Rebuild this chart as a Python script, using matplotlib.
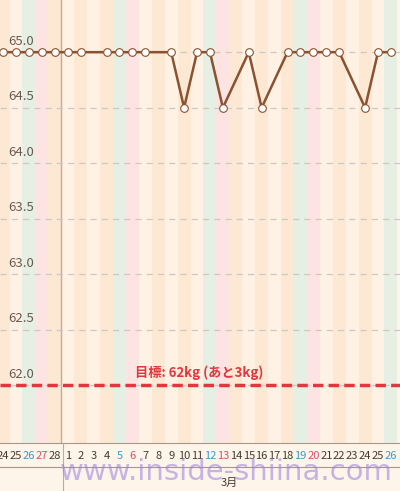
import matplotlib.pyplot as plt
import matplotlib.transforms as mtransforms

plt.rcParams['font.family'] = ['Noto Sans CJK JP', 'DejaVu Sans']

# days shown: Feb 24..28, Mar 1..26 (index 0..30)
day_labels = ["24", "25", "26", "27", "28"] + [str(d) for d in range(1, 27)]
# weekday kind: 0 normal, 1 saturday, 2 sunday
day_kind = [0, 0, 1, 2, 0, 0, 0, 0, 0, 1, 2, 0, 0, 0, 0, 0, 1, 2,
            0, 0, 0, 0, 0, 1, 2, 0, 0, 0, 0, 0, 1]

# measured weights per day index (-1 = Feb 23, off the left edge)
w_map = {-1: 65.0, 0: 65.0, 1: 65.0, 2: 65.0, 3: 65.0, 4: 65.0, 5: 65.0, 6: 65.0,
         8: 65.0, 9: 65.0, 10: 65.0, 11: 65.0, 13: 65.0, 14: 64.5, 15: 65.0,
         16: 65.0, 17: 64.5, 19: 65.0, 20: 64.5, 22: 65.0, 23: 65.0, 24: 65.0,
         25: 65.0, 26: 65.0, 28: 64.5, 29: 65.0, 30: 65.0}
w_idx = sorted(w_map)
w_val = [w_map[i] for i in w_idx]

target = 62.0
yticks = [62.0, 62.5, 63.0, 63.5, 64.0, 64.5, 65.0]

fig = plt.figure(figsize=(4.0, 4.91), dpi=100)
fig.patch.set_facecolor("#fdf4ea")
ax = fig.add_axes([0, 48 / 491, 1, 443 / 491])
ax.set_xlim(-0.24, 30.7)
ax.set_ylim(61.48, 65.47)
ax.axis("off")

cols = {0: ["#fde8d4", "#fff2e4"], 1: ["#e5efe4"] * 2, 2: ["#fde4e2"] * 2}
for i, k in enumerate(day_kind):
    ax.axvspan(i - 0.5, i + 0.5, color=cols[k][i % 2], lw=0, zorder=0)
ax.axvline(4.5, color="#c8aa90", lw=1, zorder=1)

for y in yticks:
    ax.axhline(y, color="#cfc8c0", lw=0.9, ls=(0, (5, 4)), zorder=1)
    ax.text(0.02, y + 0.04, f"{y:.1f}", transform=ax.get_yaxis_transform(),
            fontsize=9.5, color="#6b5a4c", va="bottom", zorder=2)

ax.axhline(target, color="#e0383e", lw=2.5, ls=(0, (3, 1.5)), zorder=3)
ax.text(15.2, target + 0.05, "目標: 62kg (あと3kg)", color="#e0383e",
        fontsize=9.5, fontweight="bold", ha="center", va="bottom", zorder=4)

ax.plot(w_idx, w_val, color="#8a5230", lw=1.8, zorder=5,
        marker="o", ms=5.5, mfc="white", mec="#8a5230", mew=0.8)

# day labels band
trans = mtransforms.blended_transform_factory(ax.transData, fig.transFigure)
tcol = {0: "#4a3a2e", 1: "#3a9ad0", 2: "#d8506a"}
for i, (lab, k) in enumerate(zip(day_labels, day_kind)):
    fig.text(i, 1 - 456 / 491, lab, transform=trans, ha="center", va="center",
             fontsize=8, color=tcol[k])
fig.add_artist(plt.Line2D([0, 1], [1 - 443 / 491] * 2, color="#a89888", lw=0.8))
fig.add_artist(plt.Line2D([0, 1], [1 - 467 / 491] * 2, color="#a89888", lw=0.8))
fig.add_artist(plt.Line2D([63 / 400] * 2, [0, 48 / 491], color="#c8aa90", lw=0.8))
fig.text(17.5, 1 - 483 / 491, "3月", transform=trans, ha="center", va="center",
         fontsize=8, color="#4a3a2e")

fig.text(0.565, 1 - 472 / 491, "www.inside-shiina.com", ha="center", va="center",
         fontsize=21, color="#9a7ee0", alpha=0.55, family="DejaVu Sans")

fig.savefig("out.png", dpi=100, facecolor=fig.get_facecolor())
